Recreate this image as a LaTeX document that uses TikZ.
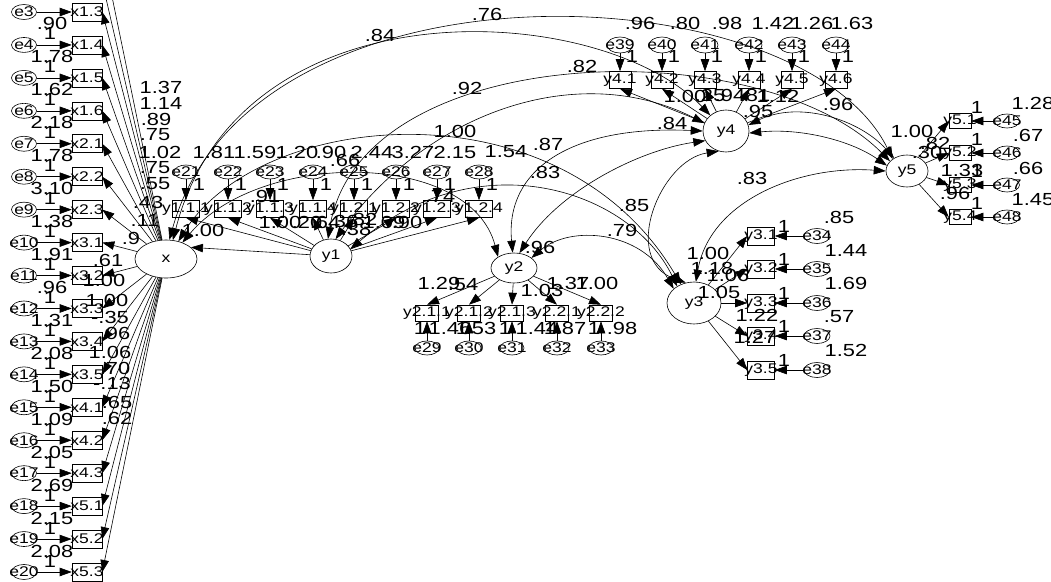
\documentclass[tikz,border=0pt]{standalone}
\usepackage{fontspec}
\newfontfamily\amos[FakeStretch=1.25]{Liberation Sans}
\usetikzlibrary{shapes.geometric,arrows.meta}
\tikzset{
  ln/.style={line width=0.6pt},
  arr/.style={ln,-{Triangle[length=12pt,width=8.5pt]}},
  darr/.style={ln,{Triangle[length=12pt,width=8.5pt]}-{Triangle[length=12pt,width=8.5pt]}},
  num/.style={font=\amos\fontsize{17.5}{17.5}\selectfont, inner sep=0pt},
  nm/.style={font=\amos\fontsize{14}{14}\selectfont, inner sep=0pt},
  rbox/.style={draw, ln, rectangle, inner sep=0pt},
  evar/.style={draw, ln, ellipse, inner sep=0pt, minimum width=25pt, minimum height=15pt},
  lat/.style={draw, ln, ellipse, inner sep=0pt},
}
\begin{document}
\begin{tikzpicture}[x=1pt,y=-1pt]
\useasboundingbox (0,0) rectangle (1051,581);
\fill[white] (0,0) rectangle (1051,581);
\clip (0,0) rectangle (1051,581);
% latent variables
\node[lat,minimum width=62pt,minimum height=38pt,label={[nm]center:x}] (x) at (166,259) {};
\node[lat,minimum width=42pt,minimum height=34pt,label={[nm]center:y1}] (y1) at (331,256) {};
\node[lat,minimum width=46pt,minimum height=30pt,label={[nm]center:y2}] (y2) at (514,268) {};
\node[lat,minimum width=54pt,minimum height=42pt,label={[nm]center:y3}] (y3) at (694,303) {};
\node[lat,minimum width=46pt,minimum height=42pt,label={[nm]center:y4}] (y4) at (726,131) {};
\node[lat,minimum width=42pt,minimum height=32pt,label={[nm]center:y5}] (y5) at (907,171) {};
% x indicators
\coordinate (x11) at (102,-52);
\coordinate (x12) at (102,-19);
\draw[arr] (x) -- (x11);
\draw[arr] (x) -- (x12);
\foreach \lb [count=\k from 0] in {x1.3,x1.4,x1.5,x1.6,x2.1,x2.2,x2.3,x3.1,x3.2,x3.3,x3.4,x3.5,x4.1,x4.2,x4.3,x5.1,x5.2,x5.3} {
  \pgfmathsetmacro\yy{12+\k*32.94}
  \pgfmathtruncatemacro\ii{\k+3}
  \node[rbox,minimum width=30pt,minimum height=18pt,label={[nm]center:\lb}] (bx\ii) at (87,\yy) {};
  \node[evar,label={[nm]center:e\ii}] (e\ii) at (24,\yy) {};
  \draw[arr] (e\ii) -- (bx\ii);
  \draw[arr] (x) -- (bx\ii.east);
}
\foreach \lb [count=\k from 4] in {.90,1.78,1.62,2.18,1.78,3.10,1.38,1.91,.96,1.31,2.08,1.50,1.09,2.05,2.69,2.15,2.08} {
  \pgfmathsetmacro\yy{12+(\k-3)*32.94-21}
  \pgfmathsetmacro\yo{12+(\k-3)*32.94-11}
  \node[num] (v\k) at (52,\yy) {\lb};
  \node[num] (o\k) at (50,\yo) {1};
}
% y1 indicators
\foreach \xx/\lb [count=\k from 21] in {186/y1.1.1,228/y1.1.2,270/y1.1.3,313/y1.1.4,354/y1.2.1,396/y1.2.2,437/y1.2.3,479/y1.2.4} {
  \node[rbox,minimum width=27pt,minimum height=17pt,label={[nm]center:\lb}] (b\k) at (\xx,209) {};
  \node[evar,minimum width=24pt,minimum height=14pt,label={[nm]center:e\k}] (e\k) at (\xx,172) {};
  \draw[arr] (e\k) -- (b\k);
  \draw[arr] (y1) -- (b\k.south);
  \node[num] (one\k) at (\xx+13,184) {1};
}
% y2 indicators
\foreach \xx/\lb [count=\k from 29] in {427/y2.1.1,469/y2.1.2,512/y2.1.3,557/y2.2.1,601/y2.2.2} {
  \node[rbox,minimum width=23pt,minimum height=16pt,label={[nm]center:\lb}] (b\k) at (\xx,313) {};
  \node[evar,minimum width=24pt,minimum height=14pt,label={[nm]center:e\k}] (e\k) at (\xx,348) {};
  \draw[arr] (e\k) -- (b\k);
  \draw[arr] (y2) -- (b\k.north);
  \node[num] (one\k) at (\xx-7,328) {1};
}
% y3 indicators
\foreach \yy/\lb [count=\k from 34] in {236/y3.1,269/y3.2,303/y3.3,336/y3.4,370/y3.5} {
  \node[rbox,minimum width=27pt,minimum height=18pt,label={[nm]center:\lb}] (b\k) at (761,\yy) {};
  \node[evar,minimum width=26pt,minimum height=15pt,label={[nm]center:e\k}] (e\k) at (817,\yy) {};
  \draw[arr] (e\k) -- (b\k);
  \draw[arr] (y3) -- (b\k.west);
  \node[num] (one\k) at (784,\yy-10) {1};
}
% y4 indicators
\foreach \xx/\lb [count=\k from 39] in {620/y4.1,662/y4.2,705/y4.3,749/y4.4,792/y4.5,836/y4.6} {
  \node[rbox,minimum width=22pt,minimum height=17pt,label={[nm]center:\lb}] (b\k) at (\xx,80) {};
  \node[evar,minimum width=26pt,minimum height=16pt,label={[nm]center:e\k}] (e\k) at (\xx,45) {};
  \draw[arr] (e\k) -- (b\k);
  \draw[arr] (y4) -- (b\k.south);
  \node[num] (one\k) at (\xx+12,56) {1};
}
% y5 indicators
\foreach \yy/\lb [count=\k from 45] in {121/y5.1,153/y5.2,185/y5.3,217/y5.4} {
  \node[rbox,minimum width=22pt,minimum height=15pt,label={[nm]center:\lb}] (b\k) at (960,\yy) {};
  \node[evar,minimum width=25pt,minimum height=14pt,label={[nm]center:e\k}] (e\k) at (1007,\yy) {};
  \draw[arr] (e\k) -- (b\k);
  \draw[arr] (y5) -- (b\k.west);
  \node[num] (one\k) at (977,\yy-14) {1};
}
% structural paths
\draw[arr] (y1) -- (x.25);
\draw[darr] (x.80) .. controls (250,-50) and (800,-30) .. (y5.140);
\draw[darr] (x.70) .. controls (240,-20) and (600,0) .. (y4.135);
\draw[darr] (y1.100) .. controls (360,40) and (760,30) .. (y5.150);
\draw[darr] (y1.75) .. controls (430,110) and (580,60) .. (y4.160);
\draw[darr] (x.55) .. controls (260,110) and (560,80) .. (y3.125);
\draw[darr] (x.45) .. controls (260,150) and (470,150) .. (y2.145);
\draw[darr] (y1.20) .. controls (480,140) and (630,190) .. (y3.135);
\draw[darr] (y2.95) .. controls (505,170) and (570,125) .. (y4.180);
\draw[darr] (y2.70) .. controls (560,190) and (640,150) .. (y4.205);
\draw[darr] (y2.30) .. controls (570,225) and (640,230) .. (y3.145);
\draw[darr] (y4.250) .. controls (660,160) and (620,260) .. (y3.112);
\draw[darr] (y3.85) .. controls (710,200) and (800,165) .. (y5.180);
\draw[darr] (y4.15) .. controls (800,100) and (860,120) .. (y5.135);
\draw[darr] (y5.165) .. controls (850,140) and (800,128) .. (y4.355);
% x loadings
\foreach \p/\q/\lb [count=\k] in {161/87/1.37,161/103/1.14,156/119/.89,155/135/.75,160/152/1.02,155/168/.75,155/184/.55,148/202/.43,145/220/.11,131/238/.9,108/260/.61,104/280/1.00,107/300/1.00,110/317/-.35,115/333/.96,110/352/1.06,115/368/.70,112/383/-.13,117/402/.65,117/418/.62}
  \node[num] (la\k) at (\p,\q) {\lb};
% y1 labels
\foreach \p/\q/\lb [count=\k] in {214/152/1.81,255/152/1.59,297/152/1.20,331/152/.90,372/152/2.44,413/152/3.27,455/152/2.15,506/152/1.54,265/196/.91,345/160/.66,440/196/.74,203/230/1.00,280/222/1.00,307/222/.20,325/222/.64,343/221/.36,362/219/.82,356/229/.38,384/222/1.09,407/222/.90}
  \node[num] (lb\k) at (\p,\q) {\lb};
% arc labels
\foreach \p/\q/\lb [count=\k] in {487/14/.76,380/35/.84,582/66/.82,467/88/.92,455/131/1.00,548/144/.87,545/172/.83,634/205/.85,622/230/.79,540/247/.96,672/123/.84,752/178/.83,838/104/.96}
  \node[num] (lc\k) at (\p,\q) {\lb};
% y2 labels
\foreach \p/\q/\lb [count=\k] in {439/283/1.29,463/285/.54,542/290/1.03,568/283/1.37,597/283/1.00,450/328/1.46,481/328/.53,537/328/1.44,571/328/.87,622/328/.98}
  \node[num] (ld\k) at (\p,\q) {\lb};
% y3 labels
\foreach \p/\q/\lb [count=\k] in {708/253/1.00,712/268/1.18,728/275/1.06,719/292/1.05,757/315/1.22,755/337/1.27,839/217/.85,846/250/1.44,846/283/1.69,839/317/.57,846/350/1.52}
  \node[num] (le\k) at (\p,\q) {\lb};
% y4 labels
\foreach \p/\q/\lb [count=\k] in {640/23/.96,685/23/.80,727/23/.98,773/23/1.42,812/23/1.26,852/23/1.63,685/96/1.00,710/95/.25,730/95/.94,755/95/.81,778/96/1.12,758/111/.95}
  \node[num] (lf\k) at (\p,\q) {\lb};
% y5 labels
\foreach \p/\q/\lb [count=\k] in {912/131/1.00,935/143/.82,927/152/.30,962/170/1.33,955/193/.96,1033/103/1.28,1028/135/.67,1028/168/.66,1033/200/1.45}
  \node[num] (lg\k) at (\p,\q) {\lb};
\end{tikzpicture}
\end{document}
